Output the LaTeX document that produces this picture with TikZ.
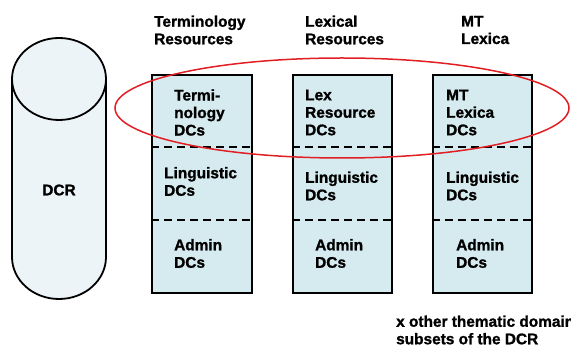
\documentclass[tikz,border=0pt]{standalone}
\usepackage{fontspec}
\setmainfont{Liberation Sans}
\newfontfamily\heavyfont{Liberation Sans Bold}[FakeBold=1.3]
\definecolor{boxfill}{RGB}{214,235,240}
\definecolor{cylfill}{RGB}{236,244,247}
\definecolor{ringred}{RGB}{225,30,35}
\begin{document}
\begin{tikzpicture}[x=1pt,y=-1pt,
  lbl/.style={font=\fontsize{15.4}{17.5}\selectfont\heavyfont, align=left, anchor=west, inner sep=0pt},
  dcbox/.style={draw=black, line width=1.6pt, fill=boxfill, minimum width=99.5pt, minimum height=218pt, inner sep=0pt},
  sep/.style={dash pattern=on 8pt off 5pt, line width=1.4pt},
  cyl/.style={line width=1.8pt, draw=black}]
\useasboundingbox (0,0) rectangle (571,352);
\clip (0,0) rectangle (571,352);
% cylinder
\fill[cylfill] (12,79) -- (12,257) arc[start angle=180,end angle=0,x radius=47,y radius=42] -- (106,79) -- cycle;
\fill[cylfill] (59,79) ellipse[x radius=47, y radius=41];
\draw[cyl] (12,79) -- (12,257) arc[start angle=180,end angle=0,x radius=47,y radius=42] -- (106,79);
\draw[cyl] (59,79) ellipse[x radius=47, y radius=41];
\node[lbl, anchor=center] (dcr) at (59,190) {DCR};
% boxes
\node[dcbox] (b1) at (202,184) {};
\node[dcbox] (b2) at (342.5,184) {};
\node[dcbox] (b3) at (482.5,184) {};
\foreach \b in {b1,b2,b3}{
  \draw[sep] (\b.west |- 0,147) -- (\b.east |- 0,147);
  \draw[sep] (\b.west |- 0,220) -- (\b.east |- 0,220);
}
% red ring
\draw[ringred, line width=1.5pt] (342,108) ellipse[x radius=227, y radius=50];
% headers
\node[lbl] (h1) at (154,30) {Terminology\\Resources};
\node[lbl] (h2) at (305,30) {Lexical\\Resources};
\node[lbl] (h3) at (461,30) {MT\\Lexica};
% box texts
\node[lbl] (t1) at (174,112.5) {Termi-\\nology\\DCs};
\node[lbl] (l1) at (164,181.5) {Linguistic\\DCs};
\node[lbl] (a1) at (174,253.5) {Admin\\DCs};
\node[lbl] (t2) at (305,112.5) {Lex\\Resource\\DCs};
\node[lbl] (l2) at (305,186) {Linguistic\\DCs};
\node[lbl] (a2) at (315,253.5) {Admin\\DCs};
\node[lbl] (t3) at (446,112.5) {MT\\Lexica\\DCs};
\node[lbl] (l3) at (446,186) {Linguistic\\DCs};
\node[lbl] (a3) at (456,253.5) {Admin\\DCs};
% note (cut off at the right edge, as in the reference)
\node[lbl] (note) at (396,330) {x other thematic domains\\subsets of the DCR};
\end{tikzpicture}
\end{document}
